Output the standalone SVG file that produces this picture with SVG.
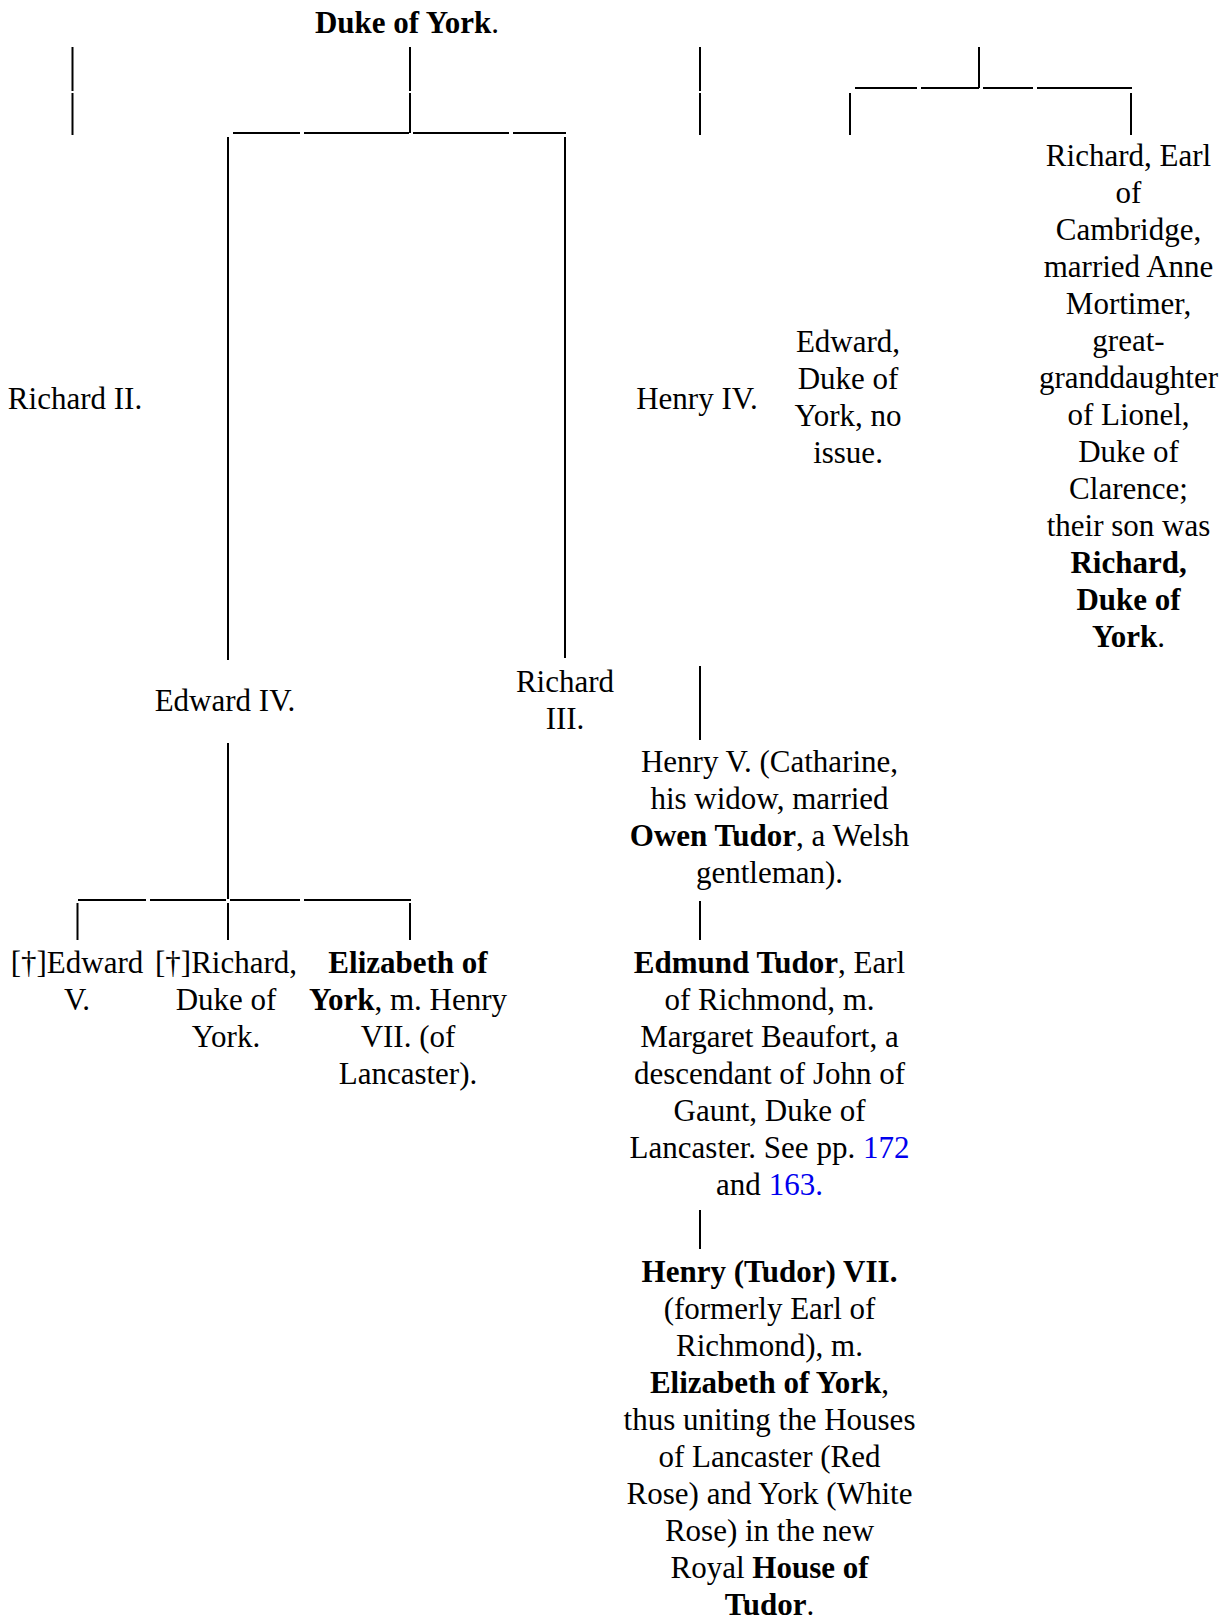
<svg xmlns="http://www.w3.org/2000/svg" width="1228" height="1623" viewBox="0 0 1228 1623">
<style>
text { font-family: "Liberation Serif", "Times New Roman", serif; font-size: 31px; fill: #000; text-anchor: middle; }
.b { font-weight: bold; }
.lnk { fill: #0000ee; }
#connectors line { stroke: #000; stroke-width: 2; }
</style>
<rect width="1228" height="1623" fill="#fff"/>
<g id="connectors">
  <!-- Richard II column -->
  <line x1="72.5" y1="47" x2="72.5" y2="91"/>
  <line x1="72.5" y1="93" x2="72.5" y2="135"/>
  <!-- Duke of York to Edward IV / Richard III -->
  <line x1="410" y1="47" x2="410" y2="91"/>
  <line x1="410" y1="93" x2="410" y2="133"/>
  <line x1="233" y1="133" x2="300" y2="133"/>
  <line x1="304" y1="133" x2="409" y2="133"/>
  <line x1="413" y1="133" x2="509" y2="133"/>
  <line x1="513" y1="133" x2="566" y2="133"/>
  <line x1="228" y1="137" x2="228" y2="660"/>
  <line x1="565" y1="137" x2="565" y2="658"/>
  <!-- Henry IV column -->
  <line x1="700" y1="47" x2="700" y2="91"/>
  <line x1="700" y1="93" x2="700" y2="135"/>
  <!-- Edmund of Langley branch -->
  <line x1="979" y1="47" x2="979" y2="88"/>
  <line x1="855" y1="88" x2="917" y2="88"/>
  <line x1="921" y1="88" x2="979" y2="88"/>
  <line x1="983" y1="88" x2="1033" y2="88"/>
  <line x1="1037" y1="88" x2="1132" y2="88"/>
  <line x1="850" y1="93" x2="850" y2="135"/>
  <line x1="1131" y1="93" x2="1131" y2="135"/>
  <!-- Henry IV descent -->
  <line x1="700" y1="666" x2="700" y2="740"/>
  <line x1="700" y1="901" x2="700" y2="940"/>
  <line x1="700" y1="1210" x2="700" y2="1249"/>
  <!-- Edward IV children -->
  <line x1="228" y1="743" x2="228" y2="899"/>
  <line x1="78" y1="900" x2="146" y2="900"/>
  <line x1="150" y1="900" x2="226" y2="900"/>
  <line x1="230" y1="900" x2="300" y2="900"/>
  <line x1="304" y1="900" x2="411" y2="900"/>
  <line x1="77.5" y1="903" x2="77.5" y2="940"/>
  <line x1="228" y1="903" x2="228" y2="940"/>
  <line x1="410" y1="903" x2="410" y2="940"/>
</g>
<g id="node-duke-of-york">
  <text x="407" y="33"><tspan class="b">Duke of York</tspan>.</text>
</g>
<g id="node-richard-ii">
  <text x="75" y="409">Richard II.</text>
</g>
<g id="node-henry-iv">
  <text x="697" y="409">Henry IV.</text>
</g>
<g id="node-edward-duke-of-york">
  <text x="848" y="352">Edward,</text>
  <text x="848" y="389">Duke of</text>
  <text x="848" y="426">York, no</text>
  <text x="848" y="463">issue.</text>
</g>
<g id="node-richard-earl-of-cambridge">
  <text x="1128.5" y="166">Richard, Earl</text>
  <text x="1128.5" y="203">of</text>
  <text x="1128.5" y="240">Cambridge,</text>
  <text x="1128.5" y="277">married Anne</text>
  <text x="1128.5" y="314">Mortimer,</text>
  <text x="1128.5" y="351">great-</text>
  <text x="1128.5" y="388">granddaughter</text>
  <text x="1128.5" y="425">of Lionel,</text>
  <text x="1128.5" y="462">Duke of</text>
  <text x="1128.5" y="499">Clarence;</text>
  <text x="1128.5" y="536">their son was</text>
  <text x="1128.5" y="573" class="b">Richard,</text>
  <text x="1128.5" y="610" class="b">Duke of</text>
  <text x="1128.5" y="647"><tspan class="b">York</tspan>.</text>
</g>
<g id="node-edward-iv">
  <text x="225" y="711">Edward IV.</text>
</g>
<g id="node-richard-iii">
  <text x="565" y="692">Richard</text>
  <text x="565" y="729">III.</text>
</g>
<g id="node-henry-v">
  <text x="769.5" y="772">Henry V. (Catharine,</text>
  <text x="769.5" y="809">his widow, married</text>
  <text x="769.5" y="846"><tspan class="b">Owen Tudor</tspan>, a Welsh</text>
  <text x="769.5" y="883">gentleman).</text>
</g>
<g id="node-edmund-tudor">
  <text x="769.5" y="973"><tspan class="b">Edmund Tudor</tspan>, Earl</text>
  <text x="769.5" y="1010">of Richmond, m.</text>
  <text x="769.5" y="1047">Margaret Beaufort, a</text>
  <text x="769.5" y="1084">descendant of John of</text>
  <text x="769.5" y="1121">Gaunt, Duke of</text>
  <text x="769.5" y="1158">Lancaster. See pp. <tspan class="lnk">172</tspan></text>
  <text x="769.5" y="1195">and <tspan class="lnk">163.</tspan></text>
</g>
<g id="node-henry-vii">
  <text x="769.5" y="1282" class="b">Henry (Tudor) VII.</text>
  <text x="769.5" y="1319">(formerly Earl of</text>
  <text x="769.5" y="1356">Richmond), m.</text>
  <text x="769.5" y="1393"><tspan class="b">Elizabeth of York</tspan>,</text>
  <text x="769.5" y="1430">thus uniting the Houses</text>
  <text x="769.5" y="1467">of Lancaster (Red</text>
  <text x="769.5" y="1504">Rose) and York (White</text>
  <text x="769.5" y="1541">Rose) in the new</text>
  <text x="769.5" y="1578">Royal <tspan class="b">House of</tspan></text>
  <text x="769.5" y="1615"><tspan class="b">Tudor</tspan>.</text>
</g>
<g id="node-edward-v">
  <text x="77" y="973">[†]Edward</text>
  <text x="77" y="1010">V.</text>
</g>
<g id="node-richard-duke-of-york">
  <text x="226" y="973">[†]Richard,</text>
  <text x="226" y="1010">Duke of</text>
  <text x="226" y="1047">York.</text>
</g>
<g id="node-elizabeth-of-york">
  <text x="408" y="973" class="b">Elizabeth of</text>
  <text x="408" y="1010"><tspan class="b">York</tspan>, m. Henry</text>
  <text x="408" y="1047">VII. (of</text>
  <text x="408" y="1084">Lancaster).</text>
</g>
</svg>
